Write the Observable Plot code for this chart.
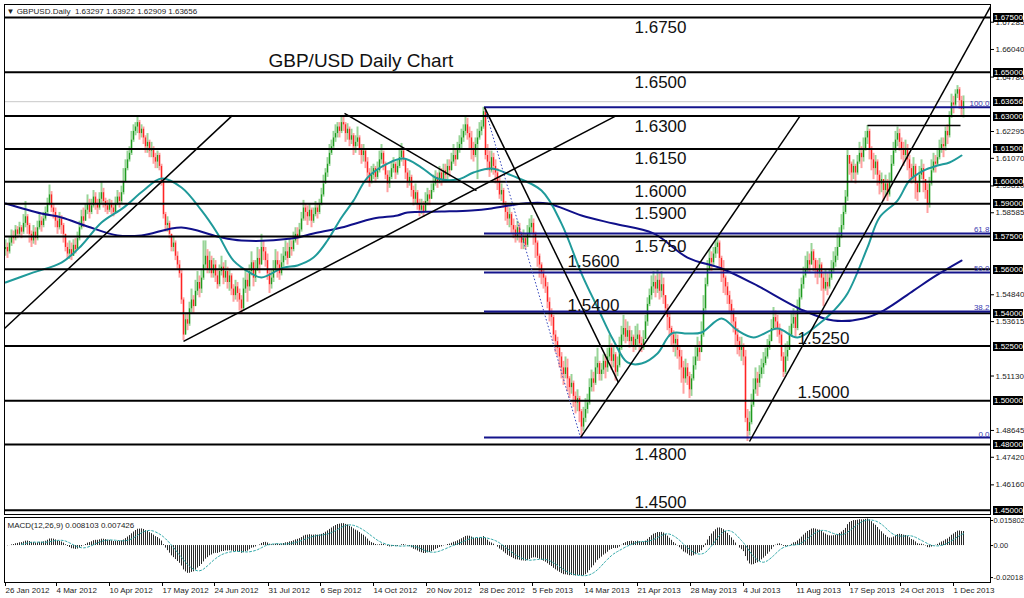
<!DOCTYPE html>
<html><head><meta charset="utf-8">
<script src="https://cdn.jsdelivr.net/npm/d3@7"></script>
<script src="https://cdn.jsdelivr.net/npm/@observablehq/plot@0.6"></script>
<style>
body{margin:0;background:#fff;}
#chart{position:relative;width:1024px;height:598px;overflow:hidden;background:#fff;}
#chart svg{display:block;}
.pbox{position:absolute;left:993px;width:30px;height:9px;background:#000;color:#fff;font:8px 'Liberation Sans',Arial,sans-serif;line-height:9px;padding-left:1px;box-sizing:border-box;white-space:nowrap;overflow:hidden;}
</style></head><body><div id="chart"></div>
<script>
// ---- daily GBP/USD bars, in pips above 1.0000 (price = 1 + v/10000) ----
const firstOpen = 5690;
const closePips = [
5700,5680,5720,5750,5740,5780,5760,5790,5770,5810, 5840,5800,5760,5730,5770,5740,5790,5820,5800,5830,
5860,5900,5940,5880,5860,5820,5790,5830,5800,5760, 5700,5670,5690,5660,5710,5690,5740,5790,5840,5820,
5870,5900,5860,5890,5930,5900,5880,5920,5950,5910, 5890,5870,5900,5880,5860,5900,5930,5910,5950,6000,
6060,6100,6130,6190,6230,6250,6270,6220,6240,6200, 6160,6180,6140,6150,6110,6090,6120,6070,6000,5850,
5800,5810,5760,5700,5720,5660,5620,5580,5460,5300, 5370,5350,5420,5460,5430,5500,5540,5510,5560,5620,
5660,5600,5640,5580,5620,5570,5530,5590,5610,5560, 5590,5540,5570,5510,5480,5520,5490,5460,5420,5510,
5550,5520,5590,5630,5560,5600,5650,5620,5700,5680, 5640,5580,5530,5560,5600,5640,5620,5580,5630,5660,
5680,5650,5700,5690,5730,5760,5750,5780,5830,5880, 5860,5840,5870,5820,5850,5880,5860,5900,5940,5990,
6040,6080,6130,6160,6200,6220,6250,6230,6270,6260, 6220,6240,6190,6210,6160,6180,6200,6150,6120,6140,
6090,6040,6000,6030,6060,6020,6050,6100,6130,6080, 6030,5990,6020,6060,6080,6040,6070,6110,6140,6100,
6040,6000,6020,5960,5920,5950,5900,5870,5890,5860, 5910,5940,5920,5960,5990,6020,6000,6040,6010,6050,
6030,6070,6050,6090,6120,6100,6150,6170,6200,6230, 6260,6220,6200,6150,6120,6170,6200,6230,6250,6320,
6120,6090,6050,6110,6070,6040,6000,5940,5960,5900, 5860,5830,5850,5800,5780,5750,5790,5760,5720,5740,
5710,5760,5790,5810,5760,5720,5660,5620,5580,5560, 5520,5450,5400,5380,5300,5270,5240,5200,5150,5120,
5150,5100,5060,5080,5020,4990,5010,4950,4880,4920, 4960,4990,5060,5100,5080,5150,5170,5120,5140,5180,
5150,5200,5240,5180,5210,5130,5160,5240,5300,5330, 5290,5320,5270,5290,5250,5280,5300,5260,5240,5280,
5360,5440,5480,5520,5540,5510,5550,5500,5530,5480, 5420,5380,5330,5300,5260,5280,5230,5200,5150,5100,
5150,5110,5050,5100,5160,5200,5240,5220,5300,5420, 5530,5600,5650,5630,5670,5700,5720,5650,5600,5560,
5520,5480,5440,5400,5360,5300,5270,5230,5250,5200, 4920,4860,4900,4980,5050,5100,5080,5120,5150,5170,
5200,5240,5270,5330,5380,5360,5330,5300,5200,5130, 5200,5230,5300,5350,5380,5330,5420,5470,5530,5570,
5600,5640,5620,5680,5640,5600,5580,5620,5560,5510, 5540,5520,5560,5600,5630,5660,5700,5750,5800,5860,
5930,6120,6080,6040,6070,6040,6090,6130,6110,6150, 6200,6230,6150,6100,6060,6090,6030,5990,6010,5960,
5990,5940,6000,6080,6140,6190,6220,6180,6150,6120, 6150,6100,6060,6020,6070,5990,5950,6030,6060,6010,
5960,5900,5990,6050,6090,6080,6110,6150,6170,6160, 6230,6210,6300,6360,6350,6400,6420,6370,6330,6366];
const highPips = [
5735,5720,5745,5780,5775,5800,5795,5815,5800,5850, 5910,5850,5810,5775,5800,5790,5820,5850,5840,5860,
5885,5925,5985,5955,5900,5880,5840,5860,5845,5810, 5760,5720,5730,5720,5735,5740,5770,5820,5870,5880,
5900,5940,5920,5920,5960,5950,5920,5950,6000,5970, 5925,5915,5920,5915,5900,5930,5960,5950,5980,6060,
6100,6140,6160,6230,6260,6270,6300,6280,6260,6250, 6210,6220,6190,6180,6160,6130,6140,6130,6080,6010,
5860,5840,5820,5760,5750,5730,5680,5640,5600,5470, 5400,5400,5450,5510,5480,5550,5590,5570,5600,5730,
5730,5690,5680,5660,5650,5640,5600,5620,5660,5630, 5640,5610,5600,5580,5530,5550,5540,5510,5480,5560,
5600,5580,5620,5680,5640,5640,5700,5690,5760,5730, 5700,5670,5600,5600,5640,5690,5680,5640,5670,5700,
5730,5720,5740,5730,5770,5790,5790,5810,5860,5915, 5900,5890,5900,5880,5880,5910,5900,5920,5970,6030,
6060,6110,6170,6190,6230,6260,6270,6270,6295,6303, 6270,6265,6250,6240,6220,6210,6250,6210,6170,6170,
6150,6110,6060,6070,6080,6070,6090,6140,6170,6140, 6090,6050,6050,6090,6110,6090,6100,6150,6175,6150,
6090,6060,6050,6030,5980,5990,5960,5920,5920,5910, 5950,5970,5960,5990,6030,6050,6040,6070,6060,6080,
6080,6100,6100,6130,6170,6150,6180,6210,6240,6260, 6300,6290,6250,6230,6180,6200,6240,6270,6280,6340,
6330,6170,6140,6140,6130,6100,6060,6020,5990,5970, 5910,5890,5880,5860,5830,5800,5820,5810,5770,5780,
5760,5800,5830,5846,5830,5770,5730,5670,5630,5600, 5570,5540,5470,5420,5390,5320,5290,5250,5220,5180,
5200,5190,5110,5120,5090,5040,5050,5020,4960,4970, 5010,5030,5100,5140,5130,5200,5240,5180,5170,5210,
5210,5240,5300,5260,5250,5220,5200,5290,5340,5390, 5370,5360,5340,5320,5300,5340,5350,5320,5290,5320,
5390,5470,5510,5570,5590,5570,5595,5580,5590,5560, 5470,5440,5400,5340,5320,5310,5300,5250,5230,5180,
5190,5170,5130,5120,5200,5250,5290,5270,5360,5480, 5560,5640,5690,5680,5700,5730,5750,5730,5660,5640,
5570,5540,5500,5460,5420,5380,5330,5290,5290,5260, 5230,4960,4950,5030,5100,5150,5130,5160,5190,5220,
5240,5280,5300,5370,5426,5410,5390,5350,5320,5220, 5260,5270,5340,5400,5420,5400,5460,5510,5560,5610,
5660,5680,5670,5718,5690,5650,5640,5650,5630,5580, 5600,5580,5600,5640,5680,5700,5760,5790,5850,5890,
5960,6150,6110,6090,6100,6080,6120,6180,6160,6200, 6230,6257,6240,6160,6130,6120,6100,6050,6040,6010,
6030,6010,6040,6120,6180,6230,6250,6240,6200,6180, 6190,6170,6120,6080,6110,6080,6000,6070,6100,6080,
6000,5990,6020,6100,6130,6120,6150,6190,6200,6200, 6250,6260,6320,6400,6390,6420,6439,6430,6390,6392];
const lowPips = [
5660,5650,5670,5705,5715,5730,5740,5750,5740,5760, 5790,5760,5720,5700,5715,5710,5730,5780,5770,5790,
5820,5850,5890,5860,5830,5790,5760,5780,5760,5720, 5680,5650,5645,5640,5660,5670,5690,5730,5780,5790,
5830,5850,5830,5850,5880,5870,5850,5870,5900,5880, 5860,5850,5860,5850,5840,5860,5890,5880,5900,5940,
6020,6050,6090,6120,6180,6210,6220,6190,6200,6170, 6130,6130,6110,6110,6080,6060,6060,6050,5980,5830,
5770,5770,5740,5680,5680,5640,5600,5560,5440,5275, 5300,5320,5340,5400,5400,5430,5480,5470,5490,5550,
5600,5580,5580,5560,5560,5540,5510,5520,5570,5530, 5540,5510,5500,5480,5450,5460,5450,5410,5395,5410,
5490,5450,5500,5570,5520,5540,5590,5580,5620,5640, 5610,5550,5490,5510,5540,5590,5560,5550,5570,5610,
5640,5620,5650,5660,5680,5720,5710,5740,5770,5820, 5820,5800,5820,5790,5810,5840,5830,5850,5890,5930,
5990,6020,6070,6120,6150,6180,6200,6200,6220,6230, 6180,6190,6160,6170,6120,6130,6160,6120,6080,6090,
6060,6000,5975,5990,6010,5995,6010,6040,6080,6050, 6010,5950,5970,6010,6040,6010,6030,6060,6090,6070,
6010,5970,5980,5930,5890,5900,5870,5840,5850,5837, 5860,5890,5890,5920,5950,5980,5970,5990,5980,6000,
5995,6010,6020,6050,6080,6070,6100,6130,6150,6180, 6210,6190,6150,6100,6090,6110,6010,6190,6210,6240,
6100,6050,6020,6040,6030,5990,5960,5920,5910,5880, 5820,5800,5790,5760,5740,5720,5730,5720,5690,5690,
5690,5700,5750,5760,5710,5650,5610,5560,5530,5510, 5490,5420,5360,5340,5270,5220,5200,5150,5100,5070,
5100,5040,5010,5030,4970,4940,4950,4900,4832,4860, 4900,4940,4980,5040,5040,5070,5120,5090,5090,5120,
5100,5130,5180,5140,5150,5090,5110,5150,5230,5270, 5260,5270,5240,5250,5220,5230,5250,5225,5220,5230,
5300,5340,5430,5460,5490,5470,5490,5460,5470,5440, 5390,5320,5290,5250,5220,5200,5190,5140,5080,5030,
5080,5070,5010,5020,5090,5140,5180,5180,5240,5290, 5400,5520,5590,5590,5610,5650,5670,5610,5540,5490,
5480,5440,5400,5350,5310,5250,5210,5200,5180,5160, 4900,4814,4840,4890,4970,5030,5020,5060,5100,5120,
5160,5190,5230,5270,5320,5320,5290,5260,5180,5106, 5120,5180,5230,5290,5330,5290,5320,5400,5460,5510,
5560,5580,5580,5620,5590,5560,5530,5560,5500,5430, 5500,5480,5510,5550,5580,5610,5640,5700,5740,5780,
5850,5910,6030,6000,6010,5990,6030,6080,6060,6090, 6140,6170,6100,6050,6010,6030,5980,5940,5950,5910,
5930,5910,5930,6000,6070,6130,6160,6140,6100,6070, 6100,6050,6010,5990,6000,5920,5910,5950,6010,5950,
5920,5855,5880,5980,6040,6040,6070,6100,6130,6110, 6140,6170,6200,6290,6310,6340,6380,6330,6300,6291];

// ---- moving averages: [bar index, pips] ----
const tealIdx  = [0,14,28,38,48,59,69,78,88,98,106,114,123,128,139,146,154,161,168,174,181,191,199,208,216,226,234,243,253,268,278,288,296,304,311,318,326,333,341,348,358,366,374,386,396,407,414,421,431,437,446,452,459,466,472,478];
const tealPips = [5540,5586,5631,5709,5814,5882,5960,6015,5974,5869,5764,5640,5581,5563,5608,5618,5654,5732,5837,5914,6019,6083,6106,6065,6015,6010,6042,6061,6029,5960,5809,5581,5426,5275,5175,5170,5216,5307,5307,5312,5376,5321,5289,5330,5289,5353,5410,5490,5700,5837,5914,6006,6051,6074,6088,6120];
const navyIdx  = [0,18,28,41,56,68,88,106,118,143,154,168,184,196,201,218,233,243,259,271,288,304,324,341,358,374,399,414,429,439,454,465,478];
const navyPips = [5901,5855,5837,5796,5755,5755,5791,5750,5732,5741,5764,5791,5832,5846,5860,5864,5869,5878,5901,5901,5846,5809,5764,5654,5604,5535,5412,5366,5376,5412,5503,5570,5640];

// ---- drawn objects ----
const levels = [1.6750,1.6500,1.6300,1.6150,1.6000,1.5900,1.5750,1.5600,1.5400,1.5250,1.5000,1.4800,1.4500];
const bidPrice = 1.63656;
const fibHigh = 1.6340, fibLow = 1.4832, fibStartIdx = 239.5, fibEndIdx = 287.5;
const fibRatios = [1, 0.618, 0.5, 0.382, 0];
const fibNames = ["100.0","61.8","50.0","38.2","0.0"];
const trendIdx1 = [-0.5, 89, 169.5, 239.5, 287.5, 372, 431];
const trendP1   = [1.5330,1.5271,1.6312,1.6340,1.4832,1.4814,1.6257];
const trendIdx2 = [113.5, 305, 235.5, 306.5, 397.5, 492.5, 477.5];
const trendP2   = [1.6303,1.6300,1.5960,1.5083,1.6303,1.6800,1.6257];

// ---- axis labels ----
const dateLabels = ["26 Jan 2012","4 Mar 2012","10 Apr 2012","17 May 2012","24 Jun 2012","31 Jul 2012","6 Sep 2012","14 Oct 2012","20 Nov 2012","28 Dec 2012","5 Feb 2013","14 Mar 2013","21 Apr 2013","28 May 2013","4 Jul 2013","11 Aug 2013","17 Sep 2013","24 Oct 2013","1 Dec 2013"];
const dateTickIdx = [-0.5,25,51.5,78,104,131,157,183.5,210,236.5,263,289,315.5,342,368.5,395,421.5,447,473.5];
const priceTicks = [1.67285,1.66040,1.64780,1.62295,1.61070,1.59810,1.58585,1.54840,1.53615,1.51130,1.48645,1.47420,1.46160];
const boxTicks = [1.67500,1.65000,1.63656,1.63000,1.61500,1.60000,1.59000,1.57500,1.56000,1.54000,1.52500,1.50000,1.48000,1.45000];
const macdTicks = [0.015802, 0, -0.02018];
const macdTickText = ["0.015802","0.00","-0.02018"];
const headerText = "\u25BC GBPUSD.Daily  1.63297 1.63922 1.62909 1.63656";
const macdHeader = "MACD(12,26,9) 0.008103 0.007426";
const titleText = "GBP/USD Daily Chart";
const levelLabelText = ["1.6750","1.6500","1.6300","1.6150","1.6000","1.5900","1.5750","1.5600","1.5400","1.5250","1.5000","1.4800","1.4500"];

// annotation placement (bar index where each level label starts, and side of its line)
const levelLabelIdx  = [314.5,314.5,314.5,314.5,314.5,314.5,314.5,281,281,396,396,314.5,314.5];
const levelLabelBelow = [true,true,true,true,true,true,true,false,false,false,false,true,false];

// ---- build tables ----
const toP = v => 1 + v / 10000;
const bars = closePips.map((c, i) => {
  const o = i ? closePips[i - 1] : firstOpen;
  return {i, o: toP(o), c: toP(c), h: toP(Math.max(highPips[i], o, c)), l: toP(Math.min(lowPips[i], o, c)), up: c >= o};
});
const upBars = bars.filter(d => d.up), downBars = bars.filter(d => !d.up);
const teal = tealIdx.map((i, k) => ({i, p: toP(tealPips[k])}));
const navy = navyIdx.map((i, k) => ({i, p: toP(navyPips[k])}));
const fibs = fibRatios.map((r, k) => ({p: fibLow + r * (fibHigh - fibLow), name: fibNames[k]}));
const trends = trendIdx1.map((i1, k) => ({i1, p1: trendP1[k], i2: trendIdx2[k], p2: trendP2[k]}));
const lvlLabels = levelLabelText.map((t, k) => ({t, p: levels[k], i: levelLabelIdx[k], below: levelLabelBelow[k]}));

// MACD(12,26,9) of the closes (main = EMA12 - EMA26, signal = SMA9 of main)
const closes = bars.map(d => d.c);
let e12 = closes[0], e26 = closes[0];
const macdMain = closes.map(c => { e12 += (2 / 13) * (c - e12); e26 += (2 / 27) * (c - e26); return e12 - e26; });
const macd = macdMain.map((m, i) => ({i, m, s: i < 8 ? NaN : d3.mean(macdMain.slice(i - 8, i + 1))}));

const xDomain = [-0.5, 492.5];
const FONT = "'Liberation Sans', Arial, sans-serif";

const main = Plot.plot({
  width: 1024, height: 516,
  marginTop: 4, marginBottom: 2, marginLeft: 4, marginRight: 34,
  style: {fontFamily: FONT, fontSize: "8px", background: "#fff", overflow: "visible"},
  x: {domain: xDomain, axis: null},
  y: {domain: [1.44807, 1.68094], axis: null},
  marks: [
    Plot.ruleY([bidPrice], {stroke: "#c8c8c8", strokeWidth: 1}),
    Plot.ruleX(upBars, {x: "i", y1: "l", y2: "h", stroke: "#98d498", strokeWidth: 2}),
    Plot.ruleX(downBars, {x: "i", y1: "l", y2: "h", stroke: "#ffa0a0", strokeWidth: 2}),
    Plot.ruleX(upBars, {x: "i", y1: "o", y2: "c", stroke: "#1f9a1f", strokeWidth: 1.2}),
    Plot.ruleX(downBars, {x: "i", y1: "o", y2: "c", stroke: "#ff2424", strokeWidth: 1.2}),
    Plot.line(navy, {x: "i", y: "p", stroke: "#10108a", strokeWidth: 2, curve: "catmull-rom"}),
    Plot.line(teal, {x: "i", y: "p", stroke: "#1f9a9a", strokeWidth: 2, curve: "catmull-rom"}),
    Plot.ruleY(levels, {stroke: "#000", strokeWidth: 2}),
    Plot.ruleY(fibs, {y: "p", x1: fibStartIdx, x2: xDomain[1], stroke: "#14148c", strokeWidth: 2}),
    Plot.link([{i1: fibStartIdx, p1: fibHigh, i2: fibEndIdx, p2: fibLow}], {x1: "i1", y1: "p1", x2: "i2", y2: "p2", stroke: "#3344bb", strokeWidth: 1, strokeDasharray: "1.5,2"}),
    Plot.link(trends, {x1: "i1", y1: "p1", x2: "i2", y2: "p2", stroke: "#000", strokeWidth: 1.5}),
    Plot.text(fibs, {x: xDomain[1], y: "p", text: "name", textAnchor: "end", lineAnchor: "bottom", dx: -1, dy: -1, fill: "#3a3ab0", fontSize: 8}),
    Plot.text(lvlLabels.filter(d => d.below), {x: "i", y: "p", text: "t", textAnchor: "start", lineAnchor: "bottom", dy: 15.5, fontSize: 17, fill: "#111"}),
    Plot.text(lvlLabels.filter(d => !d.below), {x: "i", y: "p", text: "t", textAnchor: "start", lineAnchor: "bottom", dy: -2.5, fontSize: 17, fill: "#111"}),
    Plot.text([titleText], {frameAnchor: "top-left", textAnchor: "start", lineAnchor: "bottom", dx: 264, dy: 62.5, fontSize: 19, fill: "#111"}),
    Plot.text([headerText], {frameAnchor: "top-left", textAnchor: "start", lineAnchor: "bottom", dx: 2, dy: 9.5, fontSize: 8, fill: "#222"}),
    Plot.axisY(priceTicks, {anchor: "right", label: null, tickSize: 3, tickPadding: 2, tickFormat: d => d.toFixed(5), fontSize: 8, fill: "#222"}),
    Plot.frame({stroke: "#000", strokeWidth: 1})
  ]
});

const macdMap = new Map(macdTicks.map((t, k) => [t, macdTickText[k]]));
const dateMap = new Map(dateTickIdx.map((t, k) => [t, dateLabels[k]]));
const sub = Plot.plot({
  width: 1024, height: 82,
  marginTop: 1, marginBottom: 16, marginLeft: 4, marginRight: 34,
  style: {fontFamily: FONT, fontSize: "8px", background: "#fff", overflow: "visible"},
  x: {domain: xDomain, axis: null},
  y: {domain: [-0.0233, 0.0177], axis: null},
  marks: [
    Plot.ruleX(macd, {x: "i", y1: 0, y2: "m", stroke: "#2a2a2a", strokeWidth: 1, clip: true}),
    Plot.line(macd, {x: "i", y: "s", stroke: "#30a8a8", strokeWidth: 1, strokeDasharray: "2,2", clip: true}),
    Plot.text([macdHeader], {frameAnchor: "top-left", textAnchor: "start", lineAnchor: "bottom", dx: 3, dy: 10, fontSize: 8, fill: "#222"}),
    Plot.axisY(macdTicks, {anchor: "right", label: null, tickSize: 2, tickPadding: 1, tickFormat: d => macdMap.get(d), fontSize: 7.5, fill: "#222"}),
    Plot.axisX(dateTickIdx, {anchor: "bottom", label: null, tickSize: 4, tickPadding: 1, tickFormat: d => dateMap.get(d), textAnchor: "start", dx: 1, fontSize: 8, fill: "#222"}),
    Plot.frame({stroke: "#000", strokeWidth: 1})
  ]
});

const host = document.getElementById("chart");
host.append(main, sub);
// price-marker boxes on the right axis, placed with the chart's own y scale
const yScale = main.scale("y");
for (const v of boxTicks) {
  const div = document.createElement("div");
  div.className = "pbox";
  div.style.top = (Math.round(yScale.apply(v)) - 4.5) + "px";
  div.textContent = v.toFixed(5);
  host.append(div);
}
</script>
</body></html>
